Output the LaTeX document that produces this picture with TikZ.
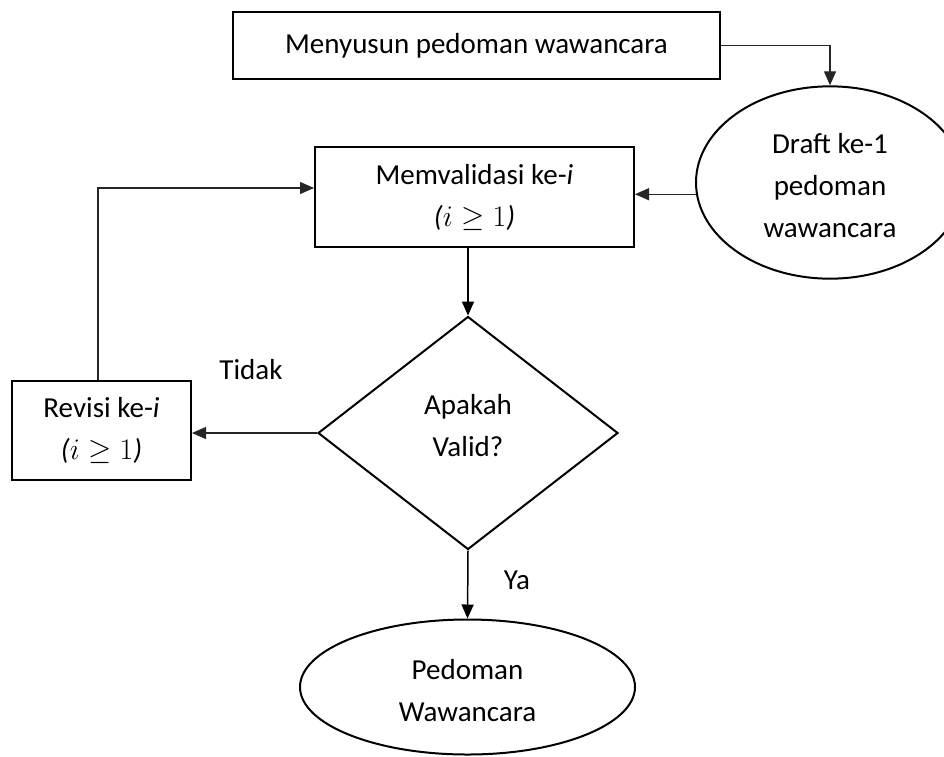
\documentclass[tikz,border=0pt]{standalone}
\usepackage{graphicx}
\usepackage{fontspec}
\setmainfont{Carlito}
\usetikzlibrary{shapes.geometric,arrows.meta}
% move text block down (#1) or up (#2) within its node
\newcommand{\txtdown}[2]{\raisebox{0pt}[\dimexpr\height+#1\relax][\depth]{\begin{tabular}{@{}c@{}}#2\end{tabular}}}
\newcommand{\txtup}[2]{\raisebox{0pt}[\height][\dimexpr\depth+#1\relax]{\begin{tabular}{@{}c@{}}#2\end{tabular}}}
\newcommand{\igeq}{\textit{(}\scalebox{1.2}{$i \geq 1$}\textit{)}}
\tikzset{
  base/.style={draw=black, line width=2pt, inner sep=0pt, align=center,
    font=\fontsize{29}{42}\selectfont},
  boxnode/.style={base, rectangle},
  ovalnode/.style={base, ellipse},
  decision/.style={base, diamond},
  conn/.style={draw=black, line width=1.5pt, -{Triangle[length=14pt,width=12pt]}},
  thinconn/.style={draw=black!85, line width=1.2pt, -{Triangle[length=14pt,width=12pt]}},
  lbl/.style={inner sep=0pt, font=\fontsize{29}{42}\selectfont}
}
\begin{document}
\begin{tikzpicture}[x=1pt,y=1pt]
\useasboundingbox (0,0) rectangle (944,-756);
\clip (0,0) rectangle (944,-756);
\node[boxnode, minimum width=487pt, minimum height=67pt] (top) at (476.5,-45.5) {Menyusun pedoman wawancara};
\node[ovalnode, minimum width=268pt, minimum height=189pt] (draft) at (830,-182.5) {\txtdown{10pt}{Draft ke-1\\pedoman\\wawancara}};
\node[boxnode, minimum width=319pt, minimum height=100pt] (memv) at (474.5,-197) {Memvalidasi ke-\textit{i}\\\igeq};
\node[decision, minimum width=300pt, minimum height=233pt] (valid) at (468,-433) {\txtup{12pt}{Apakah\\Valid?}};
\node[boxnode, minimum width=179pt, minimum height=99pt] (rev) at (101.5,-430.5) {Revisi ke-\textit{i}\\\igeq};
\node[ovalnode, minimum width=335pt, minimum height=135pt] (final) at (467.5,-687) {\txtdown{10pt}{Pedoman\\Wawancara}};
\node[lbl] (tidak) at (251,-370) {Tidak};
\node[lbl] (ya) at (517,-580) {Ya};
\coordinate (loop) at (98,-188);
\draw[thinconn] (top.east) -| (draft.north);
\draw[thinconn] (draft.185.5) -- (draft.185.5 -| memv.east);
\draw[conn] (valid.north |- memv.south) -- (valid.north);
\draw[thinconn] (valid.west) -- (valid.west -| rev.east);
\draw[thinconn] (rev.north -| loop) -- (loop) -- (loop -| memv.west);
\draw[conn] (valid.south) -- (final.north);
\end{tikzpicture}
\end{document}
